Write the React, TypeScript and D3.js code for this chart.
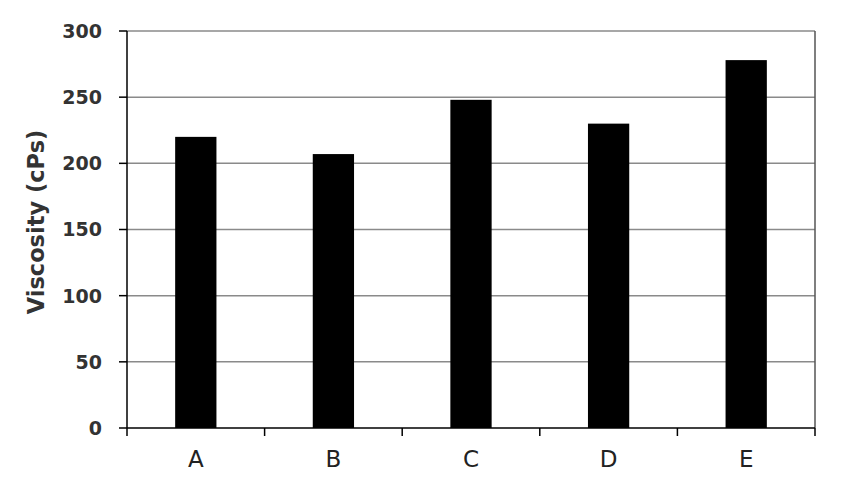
import React from "react";
import * as d3 from "d3";

const categories = ["A", "B", "C", "D", "E"];
const viscosity = [220, 207, 248, 230, 278];
const yTicks = [0, 50, 100, 150, 200, 250, 300];

export default function App() {
  const W = 841, H = 481;
  const left = 127, right = 815, top = 31, bottom = 428;
  const x = d3.scaleBand<string>().domain(categories).range([left, right]).paddingInner(0).paddingOuter(0);
  const y = d3.scaleLinear().domain([0, 300]).range([bottom, top]);
  const bw = x.bandwidth() * 0.3;
  const font = "DejaVu Sans, Verdana, sans-serif";
  return (
    <svg width={W} height={H} style={{ position: "absolute", left: 0, top: 0, background: "#fff" }}>
      {yTicks.filter(t => t > 0).map(t => (
        <line key={"g" + t} x1={left} x2={right} y1={y(t)} y2={y(t)} stroke="#8a8a8a" strokeWidth={1.5} />
      ))}
      <line x1={right} x2={right} y1={top} y2={bottom} stroke="#555" strokeWidth={1.5} />
      {categories.map((c, i) => (
        <rect key={c} x={x(c)! + (x.bandwidth() - bw) / 2} y={y(viscosity[i])} width={bw} height={bottom - y(viscosity[i])} fill="#000" />
      ))}
      <line x1={left} x2={left} y1={top} y2={bottom} stroke="#000" strokeWidth={1.5} />
      <line x1={left} x2={right} y1={bottom} y2={bottom} stroke="#000" strokeWidth={1.5} />
      {yTicks.map(t => (
        <g key={"t" + t}>
          <line x1={left - 8} x2={left} y1={y(t)} y2={y(t)} stroke="#000" strokeWidth={1.5} />
          <text x={102} y={y(t)} dy="0.36em" textAnchor="end" fontFamily={font} fontWeight="bold" fontSize={19} fill="#333">{t}</text>
        </g>
      ))}
      {[...categories.map(c => x(c)!), right].map((v, i) => (
        <line key={"xt" + i} x1={v} x2={v} y1={bottom} y2={bottom + 8} stroke="#000" strokeWidth={1.5} />
      ))}
      {categories.map(c => (
        <text key={"l" + c} x={x(c)! + x.bandwidth() / 2} y={467} textAnchor="middle" fontFamily={font} fontSize={23} fill="#222">{c}</text>
      ))}
      <text transform={`translate(44,222) rotate(-90)`} textAnchor="middle" fontFamily={font} fontWeight="bold" fontSize={22.5} fill="#333">Viscosity (cPs)</text>
    </svg>
  );
}
